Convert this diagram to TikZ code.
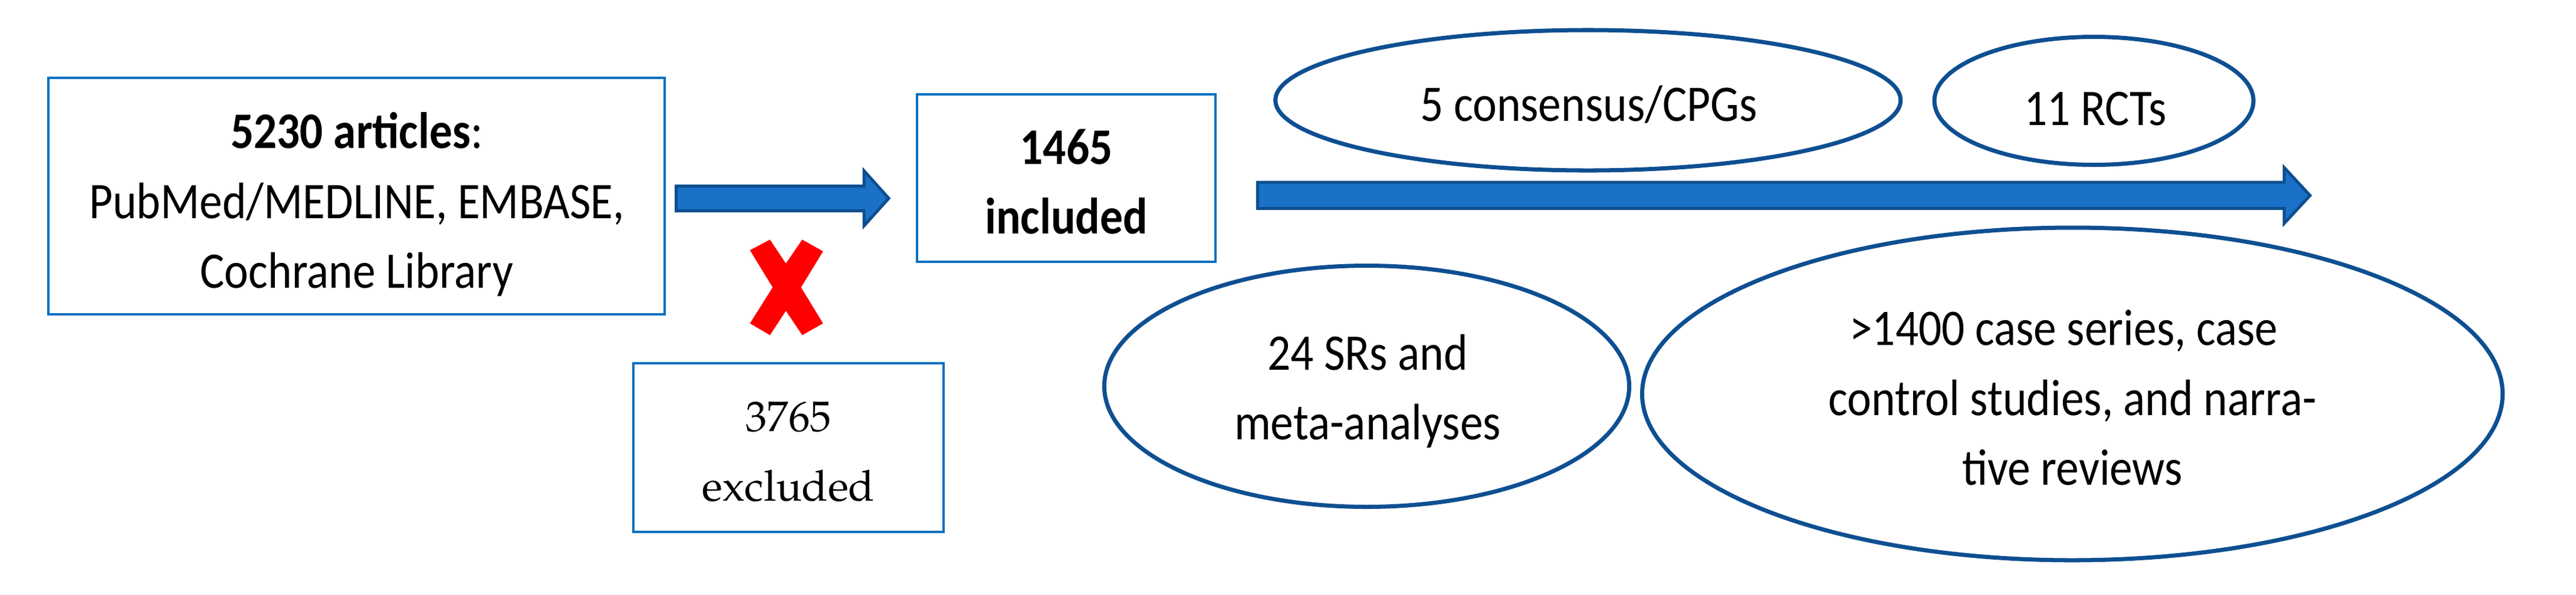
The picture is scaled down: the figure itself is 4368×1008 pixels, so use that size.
\documentclass[tikz,border=0pt]{standalone}
\usepackage[T1]{fontenc}
\usepackage{fontspec}
\setmainfont{Carlito}[FakeStretch=0.89]
\usetikzlibrary{shapes.geometric}
\definecolor{boxblue}{HTML}{0070C0}
\definecolor{ellblue}{HTML}{0E4F91}
\definecolor{arrfill}{HTML}{1A71C7}
\definecolor{arrline}{HTML}{0D4E8F}
\newcommand\palfont{\fontencoding{T1}\fontfamily{ppl}\selectfont}
\tikzset{
  boxnode/.style={draw=boxblue, line width=0.55pt, rectangle, inner sep=0pt},
  ellnode/.style={draw=ellblue, line width=0.97pt, ellipse, inner sep=0pt},
  txt/.style={align=center, inner sep=0pt, anchor=base, font=\fontsize{12}{16.36}\selectfont},
  paltxt/.style={align=center, inner sep=0pt, anchor=base, font=\palfont\fontsize{10}{16.4}\selectfont},
  blockarrow/.style={fill=arrfill, draw=arrline, line width=0.69pt, line join=miter},
}
\begin{document}
\begin{tikzpicture}[x=0.137931pt, y=-0.137931pt]
\useasboundingbox (0,0) rectangle (4368,1008);
% boxes
\node[boxnode, minimum width=144.14pt, minimum height=55.31pt] (b1) at (604.5,332.5) {};
\node[boxnode, minimum width=69.79pt, minimum height=39.12pt] (b2) at (1808,301.8) {};
\node[boxnode, minimum width=72.61pt, minimum height=39.45pt] (b3) at (1336.8,758.9) {};
% ellipses
\node[ellnode, minimum width=146.21pt, minimum height=32.83pt] (e1) at (2692.7,170) {};
\node[ellnode, minimum width=74.62pt, minimum height=29.93pt] (e2) at (3550.5,171) {};
\node[ellnode, minimum width=122.76pt, minimum height=56.41pt] (e3) at (2317.5,655) {};
\node[ellnode, minimum width=201.24pt, minimum height=77.79pt] (e4) at (3514,668) {};
% texts (base anchor = baseline of last line)
\node[txt] (t1) at (605,488.6) {\textbf{5230 articles}:\\PubMed/MEDLINE, EMBASE,\\Cochrane Library};
\node[txt] (t2) at (1808,396.6) {\textbf{1465}\\\textbf{included}};
\node[paltxt] (t3) at (1337,849.9) {3765\\excluded};
\node[txt] (t4) at (2694,205.7) {5 consensus/CPGs};
\node[txt] (t5) at (3552.7,212) {11 RCTs};
\node[txt] (t6) at (2319,745.7) {24 SRs and\\meta-analyses};
\node[txt] (t7) at (3514,822.8) {>1400 case series, case\hbox to 4.1pt{}\\control studies, and narra-\\tive reviews};
% block arrows
\filldraw[blockarrow] (1146.5,315.5) -- (1465,315.5) -- (1465,289.5) -- (1507,336.3) -- (1465,383) -- (1465,357.5) -- (1146.5,357.5) -- cycle;
\filldraw[blockarrow] (2132.3,309) -- (3873,309) -- (3873,284) -- (3917,331.5) -- (3873,379) -- (3873,353.5) -- (2132.3,353.5) -- cycle;
% red cross
\fill[red] (1271.6,424.3) -- (1305.6,406.3) -- (1332.6,446.8) -- (1360.3,406.3) -- (1395.6,426.2) -- (1358.3,487.3) -- (1395.6,548.4) -- (1360.3,568.3) -- (1332.6,527.1) -- (1305.6,568.3) -- (1271.6,548.4) -- (1310.1,487.3) -- cycle;
\end{tikzpicture}
\end{document}
